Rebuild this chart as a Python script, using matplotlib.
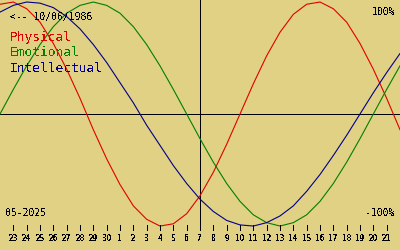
import matplotlib
matplotlib.use('Agg')
import matplotlib.pyplot as plt

plt.rcParams['font.family'] = 'DejaVu Sans Mono'
plt.rcParams['text.antialiased'] = False

birth_label = '<-- 10/06/1986'
month_label = '05-2025'
series_names = ['Physical', 'Emotional', 'Intellectual']
series_colors = ['#e00000', '#008000', '#00008b']

# day numbers, 22 Apr .. 22 May (first/last sit on the frame edges, unlabeled)
day_labels = ['', '23', '24', '25', '26', '27', '28', '29', '30', '1', '2', '3', '4', '5', '6', '7',
              '8', '9', '10', '11', '12', '13', '14', '15', '16', '17', '18', '19', '20', '21', '']
today_index = 15

physical = [0.98, 1.00, 0.94, 0.82, 0.63, 0.40, 0.14, -0.14, -0.40, -0.63, -0.82, -0.94, -1.00,
            -0.98, -0.89, -0.73, -0.52, -0.27, 0.00, 0.27, 0.52, 0.73, 0.89, 0.98, 1.00, 0.94,
            0.82, 0.63, 0.40, 0.14, -0.14]
emotional = [0.00, 0.22, 0.43, 0.62, 0.78, 0.90, 0.97, 1.00, 0.97, 0.90, 0.78, 0.62, 0.43,
             0.22, 0.00, -0.22, -0.43, -0.62, -0.78, -0.90, -0.97, -1.00, -0.97, -0.90, -0.78,
             -0.62, -0.43, -0.22, 0.00, 0.22, 0.43]
intellectual = [0.91, 0.97, 1.00, 0.99, 0.95, 0.87, 0.76, 0.62, 0.46, 0.28, 0.10, -0.10, -0.28,
                -0.46, -0.62, -0.76, -0.87, -0.95, -0.99, -1.00, -0.97, -0.91, -0.82, -0.69,
                -0.54, -0.37, -0.19, 0.00, 0.19, 0.37, 0.54]

bg = '#e0d184'
lw = 0.72  # one pixel at 100 dpi
fig = plt.figure(figsize=(4, 2.5), dpi=100, facecolor=bg)
ax = fig.add_axes([0, 0, 1, 1])
ax.set_facecolor(bg)
ax.set_xlim(0, len(day_labels) - 1)
ax.set_ylim(-1.214, 1.018)
ax.axis('off')

days = list(range(len(day_labels)))

# axes cross
ax.axhline(0, color='black', lw=lw, antialiased=False)
ax.plot([today_index, today_index], [1.02, -1.018], color='black', lw=lw, antialiased=False)

for vals, color in zip([physical, emotional, intellectual], series_colors):
    ax.plot(days, vals, color=color, lw=0.8)

# day ticks
for d, lab in zip(days, day_labels):
    if lab == '':
        continue
    ax.plot([d, d], [-0.99, -1.036], color='black', lw=lw, antialiased=False)
    ax.text(d, -1.107, lab, ha='center', va='center', fontsize=5.6, fontweight='bold')

def px_text(x, y, s, **kw):
    fig.text(x / 400, 1 - y / 250, s, **kw)

px_text(10, 17, birth_label, fontsize=7, va='center', ha='left')
for name, color, y in zip(series_names, series_colors, [38, 53, 68]):
    px_text(10, y, name, fontsize=9.3, color=color, va='center', ha='left')
px_text(395, 12, '100%', fontsize=7, va='center', ha='right')
px_text(395, 213, '-100%', fontsize=7, va='center', ha='right')
px_text(5, 213, month_label, fontsize=7, va='center', ha='left')

fig.savefig('out.png', dpi=100, facecolor=bg)
